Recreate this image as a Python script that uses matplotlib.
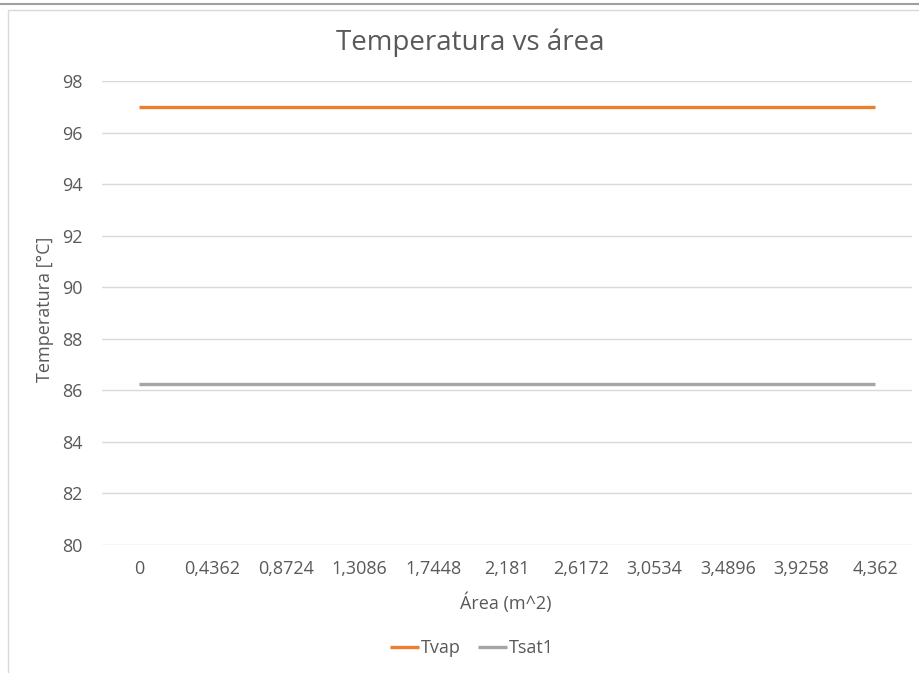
import matplotlib
matplotlib.use("Agg")
import matplotlib.pyplot as plt
from matplotlib.patches import Rectangle
from matplotlib.lines import Line2D

plt.rcParams['font.family'] = ['Open Sans', 'DejaVu Sans']

# Area categories (m^2) and temperatures (°C)
area_labels = ["0", "0,4362", "0,8724", "1,3086", "1,7448", "2,181",
               "2,6172", "3,0534", "3,4896", "3,9258", "4,362"]
tvap = [97, 97, 97, 97, 97, 97, 97, 97, 97, 97, 97]
tsat1 = [86.26, 86.26, 86.26, 86.26, 86.26, 86.26, 86.26, 86.26, 86.26, 86.26, 86.26]
y_ticks = [80, 82, 84, 86, 88, 90, 92, 94, 96, 98]

W, H = 919, 673
fig = plt.figure(figsize=(W / 100, H / 100), dpi=100)
fig.patch.set_facecolor("white")

# Chart frame
fig.add_artist(Line2D([0, 1], [1 - 3.5 / H, 1 - 3.5 / H], transform=fig.transFigure,
                      color="#a0a0a0", lw=1.5))
fig.add_artist(Rectangle((8 / W, -0.01), 1.1, 1 - 10 / H + 0.01, transform=fig.transFigure,
                         fill=False, edgecolor="#d9d9d9", lw=1))

ax = fig.add_axes([102 / W, 1 - 545 / H, (912 - 102) / W, (545 - 81) / H])
x = list(range(len(area_labels)))
ax.plot(x, tvap, color="#ED7D31", lw=2.4, solid_capstyle="butt", label="Tvap", zorder=3)
ax.plot(x, tsat1, color="#A5A5A5", lw=2.4, solid_capstyle="butt", label="Tsat1", zorder=3)

ax.set_xlim(-0.5, len(area_labels) - 0.5)
ax.set_ylim(80, 98)
ax.set_yticks(y_ticks)
ax.set_yticklabels([str(v) for v in y_ticks])
ax.set_xticks(x)
ax.set_xticklabels(area_labels)

ax.grid(axis="y", color="#d9d9d9", lw=1)
ax.set_axisbelow(True)
for s in ax.spines.values():
    s.set_visible(False)
ax.tick_params(axis="both", length=0, colors="#595959", labelsize=13)
ax.tick_params(axis="x", pad=11)
ax.tick_params(axis="y", pad=14)

fig.text(470 / W, 1 - 43 / H, "Temperatura vs área", ha="center", va="center",
         fontsize=20, color="#595959")
fig.text(506 / W, 1 - 603 / H, "Área (m^2)", ha="center", va="center",
         fontsize=13, color="#595959")
fig.text(45 / W, 1 - 309 / H, "Temperatura [°C]", ha="center", va="center",
         rotation=90, fontsize=13, color="#595959")

leg = fig.legend(loc="center", bbox_to_anchor=(472 / W, 1 - 648 / H), ncol=2,
                 frameon=False, fontsize=13, handlelength=1.6, handletextpad=0.1,
                 columnspacing=1.0, labelcolor="#595959")

fig.savefig("out.png", dpi=100, facecolor="white")
